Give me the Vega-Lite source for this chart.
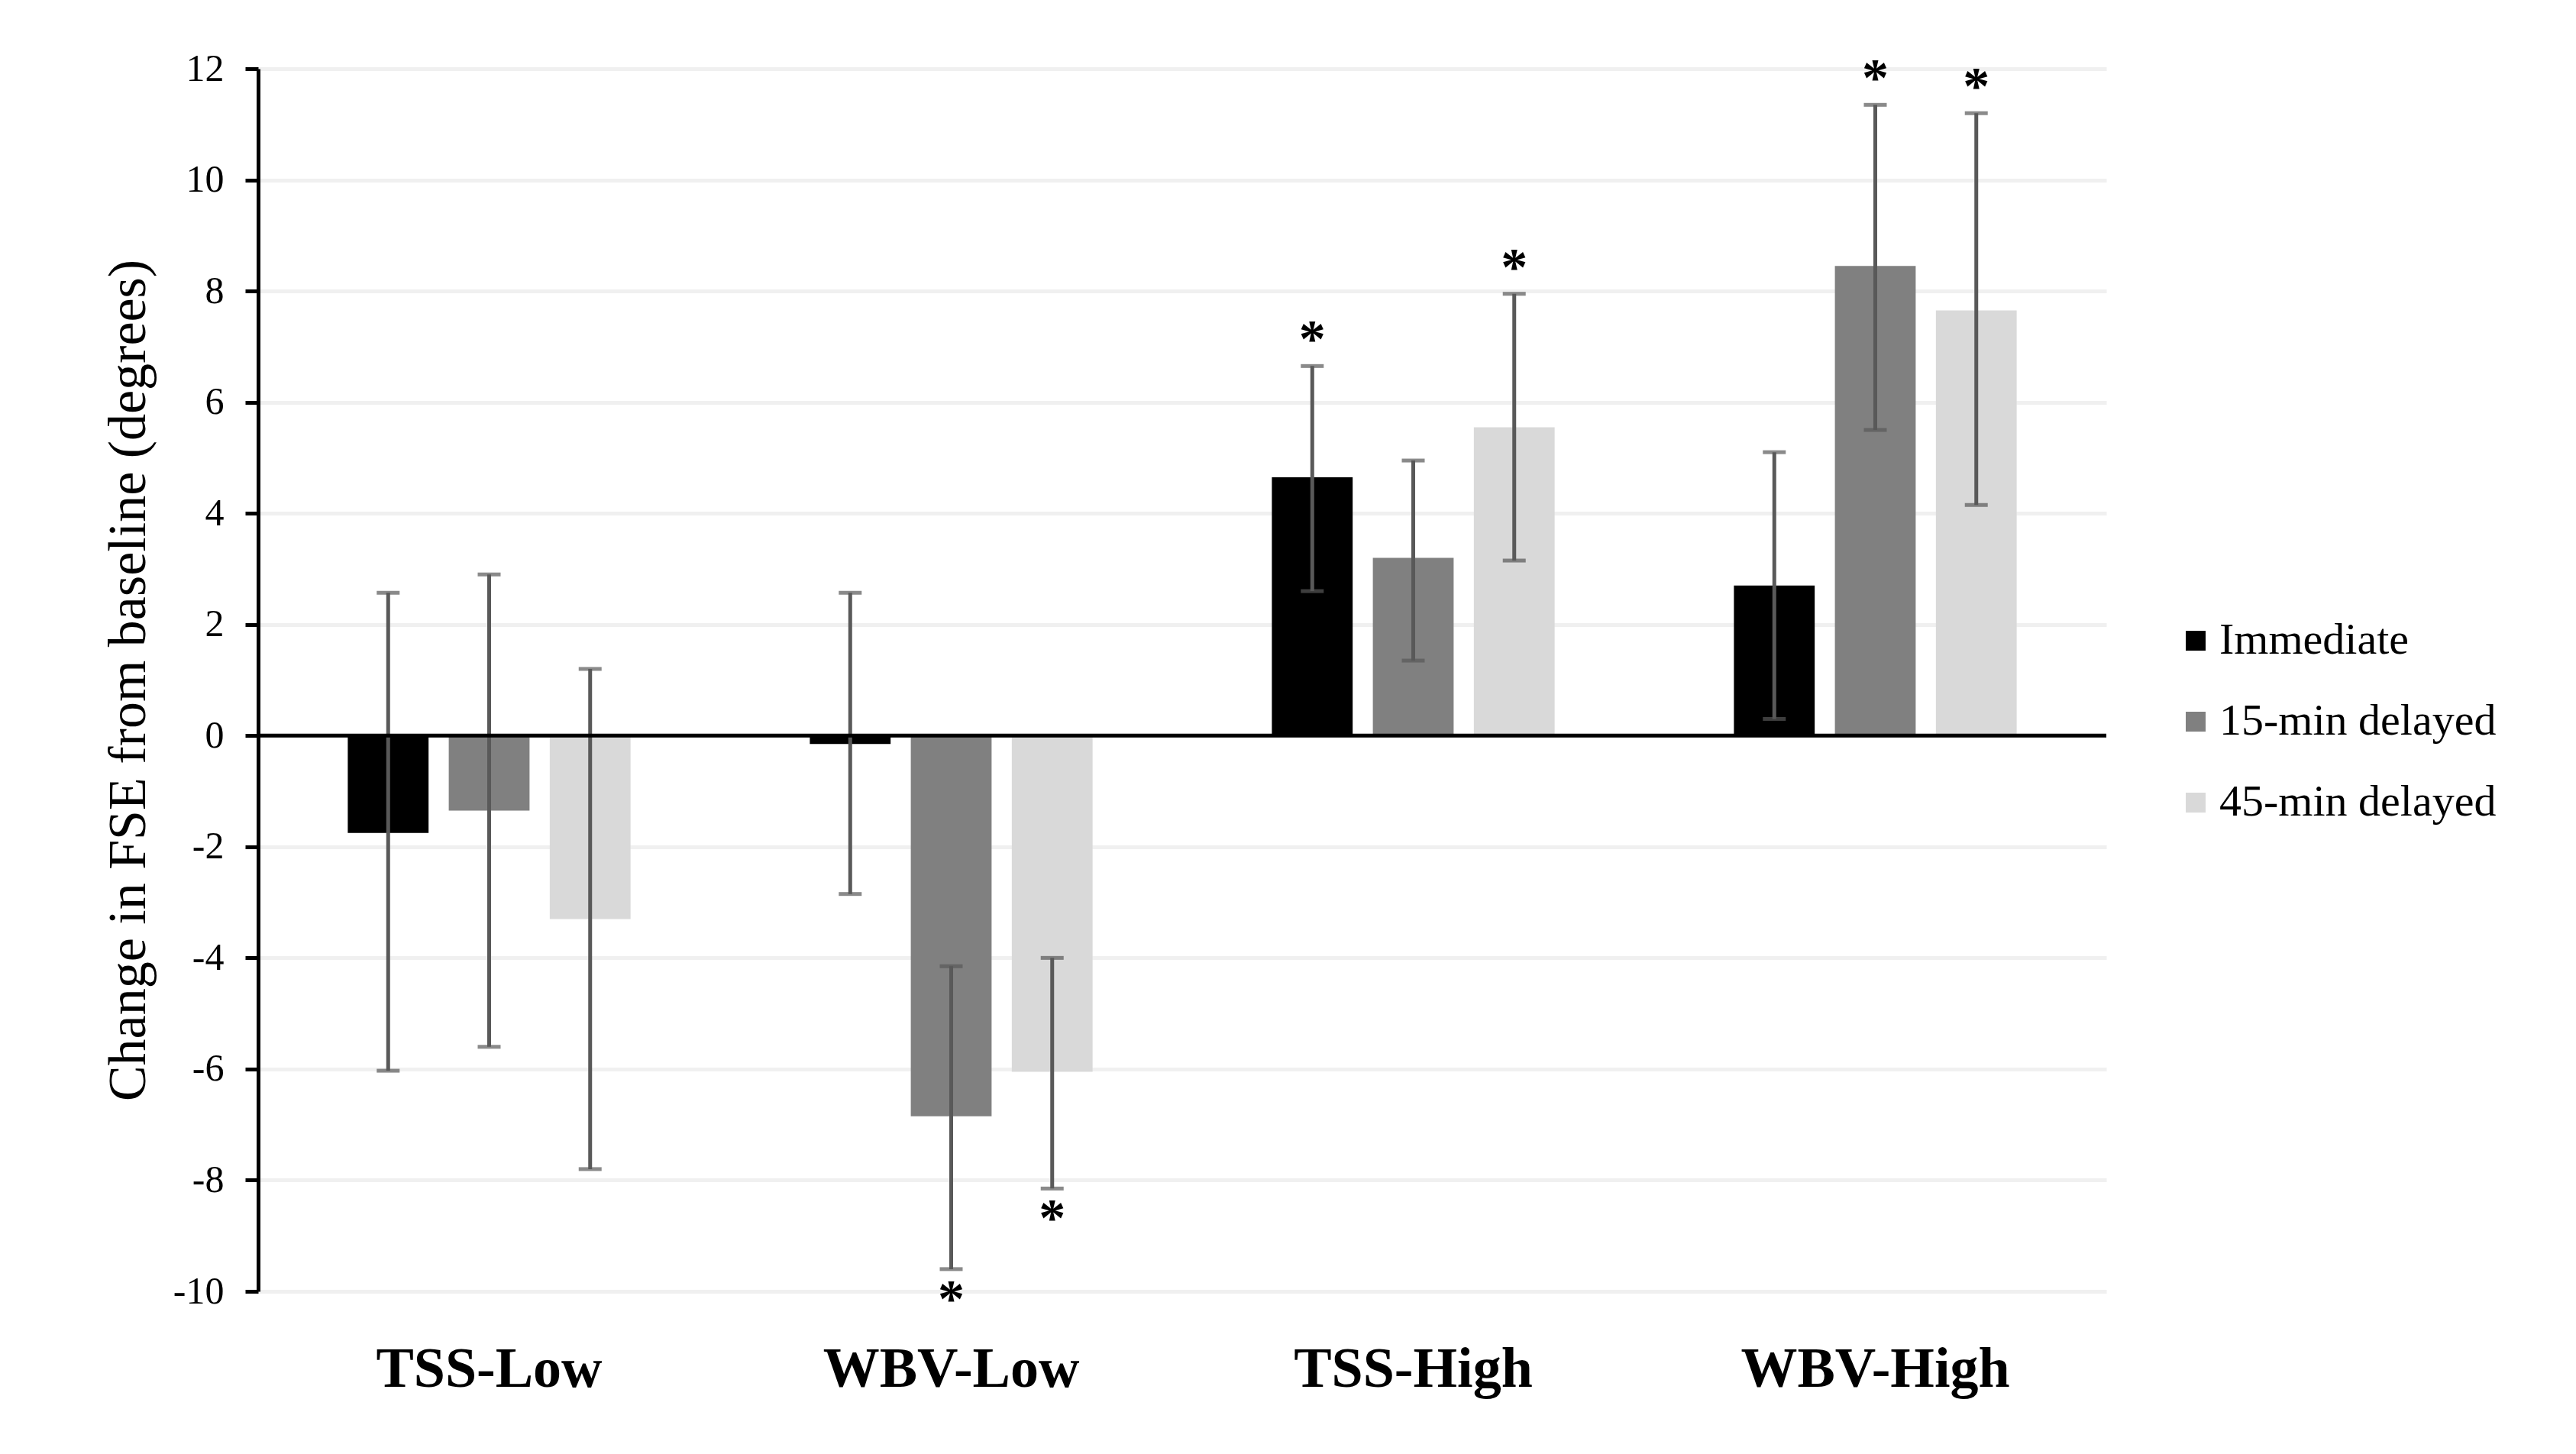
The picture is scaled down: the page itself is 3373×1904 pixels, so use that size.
{
  "$schema": "https://vega.github.io/schema/vega-lite/v6.json",
  "description": "Change in FSE from baseline by condition and time point, with SD error bars and significance stars.",
  "width": 2420,
  "height": 1601,
  "autosize": {"type": "none"},
  "padding": {"left": 338, "top": 90, "right": 615, "bottom": 213},
  "background": "white",
  "data": {
    "values": [
      {"group": "TSS-Low", "series": "Immediate", "value": -1.75, "lower": -6.03, "upper": 2.57, "sig": false},
      {"group": "TSS-Low", "series": "15-min delayed", "value": -1.35, "lower": -5.6, "upper": 2.9, "sig": false},
      {"group": "TSS-Low", "series": "45-min delayed", "value": -3.3, "lower": -7.8, "upper": 1.2, "sig": false},
      {"group": "WBV-Low", "series": "Immediate", "value": -0.15, "lower": -2.85, "upper": 2.57, "sig": false},
      {"group": "WBV-Low", "series": "15-min delayed", "value": -6.85, "lower": -9.6, "upper": -4.15, "sig": true},
      {"group": "WBV-Low", "series": "45-min delayed", "value": -6.05, "lower": -8.15, "upper": -4.0, "sig": true},
      {"group": "TSS-High", "series": "Immediate", "value": 4.65, "lower": 2.6, "upper": 6.65, "sig": true},
      {"group": "TSS-High", "series": "15-min delayed", "value": 3.2, "lower": 1.35, "upper": 4.95, "sig": false},
      {"group": "TSS-High", "series": "45-min delayed", "value": 5.55, "lower": 3.15, "upper": 7.95, "sig": true},
      {"group": "WBV-High", "series": "Immediate", "value": 2.7, "lower": 0.3, "upper": 5.1, "sig": false},
      {"group": "WBV-High", "series": "15-min delayed", "value": 8.45, "lower": 5.5, "upper": 11.35, "sig": true},
      {"group": "WBV-High", "series": "45-min delayed", "value": 7.65, "lower": 4.15, "upper": 11.2, "sig": true}
    ]
  },
  "layer": [
    {
      "encoding": {
        "x": {
          "field": "group",
          "type": "nominal",
          "sort": ["TSS-Low", "WBV-Low", "TSS-High", "WBV-High"],
          "scale": {"paddingInner": 0.388, "paddingOuter": 0.194},
          "axis": {
            "title": null,
            "domain": false,
            "ticks": false,
            "labelAngle": 0,
            "labelLimit": 0,
            "labelFont": "Liberation Serif",
            "labelFontWeight": "bold",
            "labelFontSize": 74,
            "labelColor": "black",
            "labelPadding": 66
          }
        },
        "xOffset": {
          "field": "series",
          "type": "nominal",
          "sort": ["Immediate", "15-min delayed", "45-min delayed"],
          "scale": {"paddingInner": 0.2, "paddingOuter": 0}
        }
      },
      "layer": [
        {
          "mark": {"type": "bar"},
          "encoding": {
            "y": {
              "field": "value",
              "type": "quantitative",
              "title": "Change in FSE from baseline (degrees)",
              "scale": {"domain": [-10, 12], "nice": false, "zero": false},
              "axis": {
                "values": [-10, -8, -6, -4, -2, 0, 2, 4, 6, 8, 10, 12],
                "labelExpr": "'' + datum.value"
              }
            },
            "color": {
              "field": "series",
              "type": "nominal",
              "sort": ["Immediate", "15-min delayed", "45-min delayed"],
              "scale": {
                "domain": ["Immediate", "15-min delayed", "45-min delayed"],
                "range": ["#000000", "#808080", "#d9d9d9"]
              },
              "legend": {
                "title": null,
                "orient": "none",
                "legendX": 2508,
                "legendY": 720,
                "symbolType": "square",
                "symbolSize": 676,
                "symbolStrokeWidth": 0,
                "labelLimit": 0,
                "labelFont": "Liberation Serif",
                "labelFontSize": 58,
                "labelColor": "black",
                "labelOffset": 2,
                "rowPadding": 48
              }
            }
          }
        },
        {
          "mark": {"type": "rule", "color": "#595959", "strokeWidth": 5},
          "encoding": {
            "y": {"field": "lower", "type": "quantitative", "title": "Change in FSE from baseline (degrees)"},
            "y2": {"field": "upper"}
          }
        },
        {
          "mark": {"type": "tick", "color": "#595959", "thickness": 5, "size": 30},
          "encoding": {
            "y": {"field": "lower", "type": "quantitative", "title": "Change in FSE from baseline (degrees)"}
          }
        },
        {
          "mark": {"type": "tick", "color": "#595959", "thickness": 5, "size": 30},
          "encoding": {
            "y": {"field": "upper", "type": "quantitative", "title": "Change in FSE from baseline (degrees)"}
          }
        },
        {
          "transform": [{"filter": "datum.sig && datum.value > 0"}],
          "mark": {
            "type": "text",
            "text": "*",
            "font": "Liberation Serif",
            "fontWeight": "bold",
            "fontSize": 70,
            "color": "black",
            "baseline": "alphabetic",
            "dy": -12
          },
          "encoding": {
            "y": {"field": "upper", "type": "quantitative", "title": "Change in FSE from baseline (degrees)"}
          }
        },
        {
          "transform": [{"filter": "datum.sig && datum.value < 0"}],
          "mark": {
            "type": "text",
            "text": "*",
            "font": "Liberation Serif",
            "fontWeight": "bold",
            "fontSize": 70,
            "color": "black",
            "baseline": "alphabetic",
            "dy": 62
          },
          "encoding": {
            "y": {"field": "lower", "type": "quantitative", "title": "Change in FSE from baseline (degrees)"}
          }
        }
      ]
    },
    {
      "data": {"values": [{"v": 0}]},
      "mark": {"type": "rule", "color": "black", "strokeWidth": 5},
      "encoding": {
        "y": {"field": "v", "type": "quantitative", "title": "Change in FSE from baseline (degrees)"}
      }
    }
  ],
  "config": {
    "view": {"stroke": null},
    "axisY": {
      "titleFont": "Liberation Serif",
      "titleFontWeight": "normal",
      "titleFontSize": 70,
      "titleColor": "black",
      "titlePadding": 22,
      "labelFont": "Liberation Serif",
      "labelFontSize": 50,
      "labelColor": "black",
      "labelPadding": 28,
      "domainColor": "black",
      "domainWidth": 5,
      "tickColor": "black",
      "tickWidth": 5,
      "tickSize": 17,
      "gridColor": "#f0f0f0",
      "gridWidth": 5
    }
  }
}
